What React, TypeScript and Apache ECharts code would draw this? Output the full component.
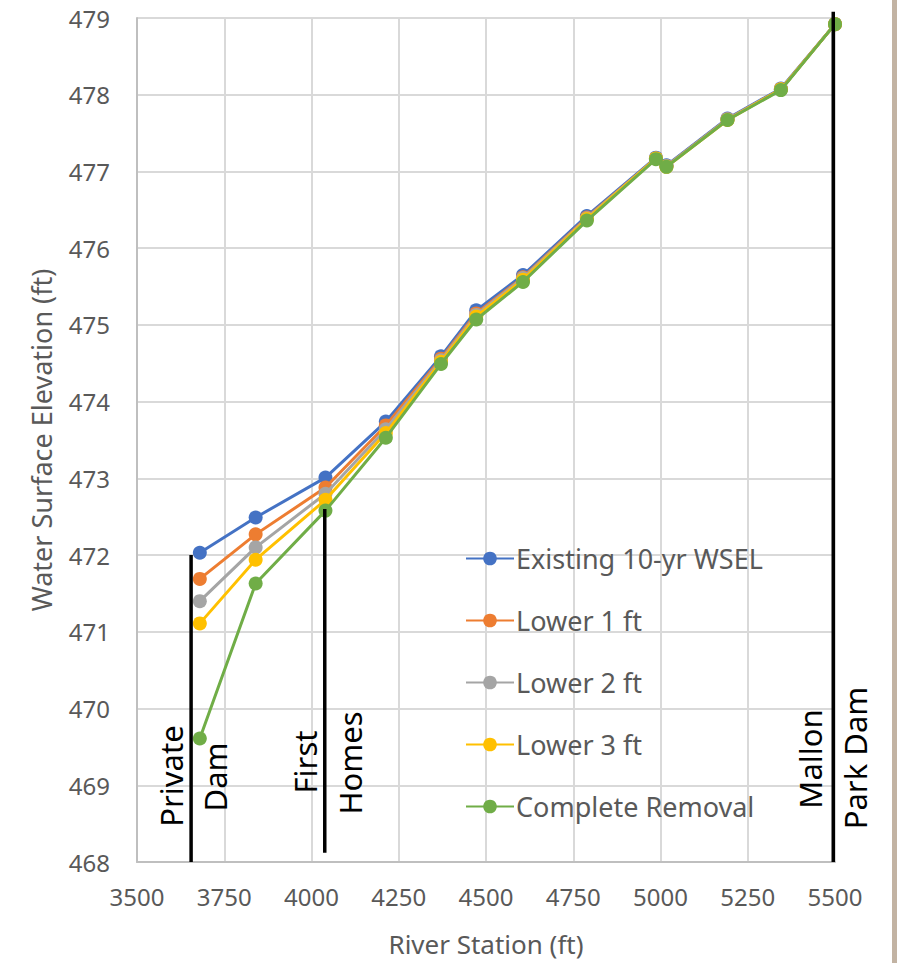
import React, { useEffect, useRef } from "react";
import * as echarts from "echarts";

const stations = [3680, 3840, 4040, 4213, 4371, 4472, 4606, 4789, 4987, 5017, 5192, 5345, 5500];
const seriesNames = ["Existing 10-yr WSEL", "Lower 1 ft", "Lower 2 ft", "Lower 3 ft", "Complete Removal"];
const existing = [472.03, 472.49, 473.01, 473.74, 474.59, 475.19, 475.65, 476.42, 477.18, 477.08, 477.69, 478.08, 478.92];
const lower1 = [471.69, 472.27, 472.88, 473.69, 474.56, 475.15, 475.62, 476.4, 477.17, 477.07, 477.68, 478.07, 478.92];
const lower2 = [471.4, 472.1, 472.8, 473.64, 474.54, 475.13, 475.61, 476.39, 477.17, 477.07, 477.68, 478.07, 478.92];
const lower3 = [471.11, 471.94, 472.72, 473.59, 474.52, 475.11, 475.59, 476.38, 477.17, 477.06, 477.67, 478.07, 478.92];
const complete = [469.61, 471.63, 472.58, 473.53, 474.49, 475.07, 475.56, 476.36, 477.16, 477.06, 477.67, 478.06, 478.92];
const colors = ["#4472C4", "#ED7D31", "#A5A5A5", "#FFC000", "#70AD47"];

// reference vertical lines (station, top elevation, bottom elevation)
const markerStations = [3655, 4038, 5495];
const markerTops = [472.0, 472.6, 479.08];
const markerBottoms = [468, 468.12, 468];
const markerLabels = [["Private", "Dam"], ["First", "Homes"], ["Mallon", "Park Dam"]];

const xTicks = { min: 3500, max: 5500, interval: 250 };
const yTicks = { min: 468, max: 479, interval: 1 };

const FONT = "'Noto Sans', 'Open Sans', sans-serif";

export default function App() {
  const ref = useRef<HTMLDivElement>(null);
  useEffect(() => {
    if (!ref.current) return;
    const chart = echarts.init(ref.current, null, { renderer: "svg" });
    const allSeries = [existing, lower1, lower2, lower3, complete];
    const dataSeries = allSeries.map((vals, i) => ({
      name: seriesNames[i],
      type: "line",
      data: stations.map((s, j) => [s, vals[j]]),
      symbol: "circle",
      symbolSize: 14,
      lineStyle: { width: 3, color: colors[i] },
      itemStyle: { color: colors[i] },
      z: 3 + i,
    }));
    const markerSeries = markerStations.map((s, i) => ({
      name: "marker" + i,
      type: "line",
      data: [[s, markerTops[i]], [s, markerBottoms[i]]],
      symbol: "none",
      clip: false,
      lineStyle: { width: 3.5, color: "#000" },
      z: 10,
      silent: true,
    }));
    const textPos = [
      [[171, 776], [215, 777]],
      [[305, 762], [350, 763]],
      [[810, 759], [855, 758]],
    ];
    const graphics: any[] = [];
    markerLabels.forEach((pair, i) => {
      pair.forEach((t, k) => {
        graphics.push({
          type: "text",
          x: textPos[i][k][0],
          y: textPos[i][k][1],
          rotation: Math.PI / 2,
          style: {
            text: t,
            fill: "#000",
            font: `31px ${FONT}`,
            textAlign: "center",
            textVerticalAlign: "middle",
          },
          z: 20,
        });
      });
    });
    graphics.push({
      type: "rect",
      shape: { x: 892, y: 0, width: 5, height: 963 },
      style: { fill: "#C2B3A3" },
    });
    chart.setOption({
      animation: false,
      backgroundColor: "#fff",
      color: colors,
      textStyle: { fontFamily: FONT },
      grid: { left: 137, right: 62, top: 18, bottom: 101, containLabel: false },
      legend: {
        data: seriesNames.map((n) => ({ name: n, itemStyle: { borderWidth: 0 } })),
        orient: "vertical",
        left: 460,
        top: 540,
        itemWidth: 48,
        itemHeight: 17,
        itemGap: 35,
        textStyle: { fontSize: 27, color: "#595959", fontFamily: FONT, padding: [0, 0, 0, -3] },
      },
      xAxis: {
        type: "value",
        min: xTicks.min,
        max: xTicks.max,
        interval: xTicks.interval,
        name: "River Station (ft)",
        nameLocation: "middle",
        nameGap: 69,
        nameTextStyle: { fontSize: 26, color: "#595959", fontFamily: FONT },
        axisLine: { show: true, lineStyle: { color: "#BFBFBF", width: 2 } },
        axisTick: { show: false },
        axisLabel: {
          fontSize: 24,
          color: "#595959",
          margin: 22,
          fontFamily: FONT,
          formatter: (v: number) => String(v),
        },
        splitLine: { show: true, lineStyle: { color: "#D9D9D9", width: 2 } },
      },
      yAxis: {
        type: "value",
        min: yTicks.min,
        max: yTicks.max,
        interval: yTicks.interval,
        name: "Water Surface Elevation (ft)",
        nameLocation: "middle",
        nameGap: 82,
        nameTextStyle: { fontSize: 27, color: "#595959", fontFamily: FONT },
        axisLine: { show: true, lineStyle: { color: "#BFBFBF", width: 2 } },
        axisTick: { show: false },
        axisLabel: {
          fontSize: 24,
          color: "#595959",
          margin: 27,
          fontFamily: FONT,
          formatter: (v: number) => String(v),
        },
        splitLine: { show: true, lineStyle: { color: "#D9D9D9", width: 2 } },
      },
      series: [...dataSeries, ...markerSeries],
      graphic: graphics,
    });
    return () => chart.dispose();
  }, []);
  return (
    <div
      ref={ref}
      style={{ position: "fixed", left: 0, top: 0, width: 897, height: 963, background: "#fff" }}
    />
  );
}
